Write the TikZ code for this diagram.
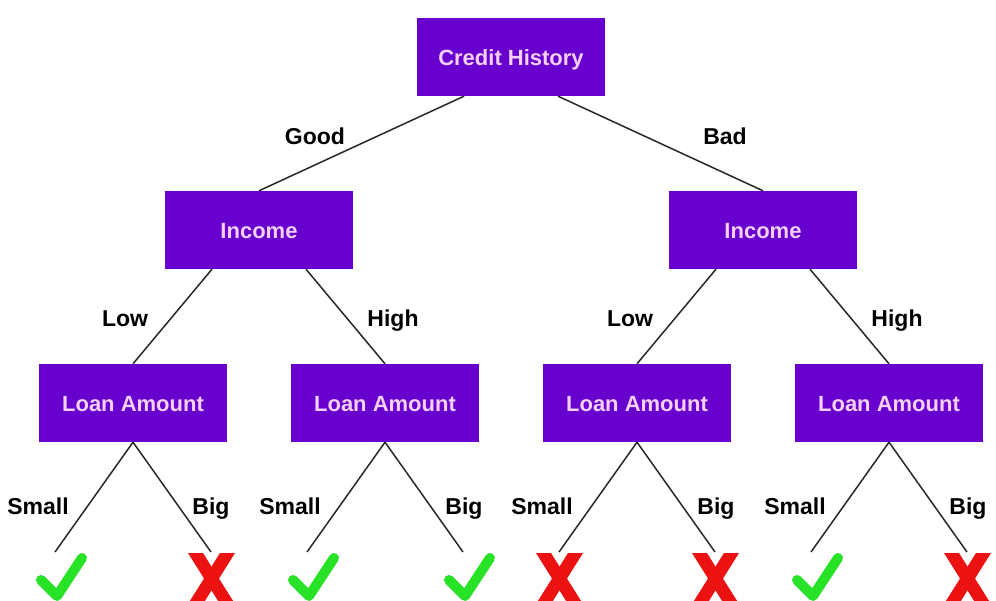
\documentclass[tikz,border=0pt]{standalone}
\usepackage{fontspec}
\setmainfont{Liberation Sans}
\definecolor{boxpurple}{RGB}{104,0,206}
\definecolor{boxtext}{RGB}{245,208,250}
\definecolor{okgreen}{RGB}{40,226,40}
\definecolor{badred}{RGB}{236,18,18}
\definecolor{edgegray}{RGB}{40,40,40}
\tikzset{
  treebox/.style={rectangle, fill=boxpurple, text=boxtext, minimum width=188pt, minimum height=78pt, inner sep=0pt, text height=18.5pt, text depth=1.5pt, font=\fontsize{22}{26}\selectfont\bfseries},
  branchlabel/.style={text=black, inner sep=0pt, text height=18.5pt, text depth=1.5pt, font=\fontsize{23}{27}\selectfont\bfseries},
  treeedge/.style={draw=edgegray, line width=1.5pt},
  checkmark/.style={draw=okgreen, line width=10pt, line cap=round, line join=round},
  crossmark/.style={fill=badred}
}
\begin{document}
\begin{tikzpicture}[x=1pt,y=-1pt]
\useasboundingbox (0,0) rectangle (996,601);
\clip (0,0) rectangle (996,601);
% boxes
\node[treebox] (ch) at (511,57) {Credit History};
\node[treebox] (incL) at (259,230) {Income};
\node[treebox] (incR) at (763,230) {Income};
\node[treebox] (la1) at (133,403) {Loan Amount};
\node[treebox] (la2) at (385,403) {Loan Amount};
\node[treebox] (la3) at (637,403) {Loan Amount};
\node[treebox] (la4) at (889,403) {Loan Amount};
% edges
\draw[treeedge] ([xshift=-47pt]ch.south) -- (incL.north);
\draw[treeedge] ([xshift=47pt]ch.south) -- (incR.north);
\draw[treeedge] ([xshift=-47pt]incL.south) -- (la1.north);
\draw[treeedge] ([xshift=47pt]incL.south) -- (la2.north);
\draw[treeedge] ([xshift=-47pt]incR.south) -- (la3.north);
\draw[treeedge] ([xshift=47pt]incR.south) -- (la4.north);
% leaf ends
\coordinate (e1) at (55,552);
\coordinate (e2) at (211,552);
\coordinate (e3) at (307,552);
\coordinate (e4) at (463,552);
\coordinate (e5) at (559,552);
\coordinate (e6) at (715,552);
\coordinate (e7) at (811,552);
\coordinate (e8) at (967,552);
\draw[treeedge] (la1.south) -- (e1);
\draw[treeedge] (la1.south) -- (e2);
\draw[treeedge] (la2.south) -- (e3);
\draw[treeedge] (la2.south) -- (e4);
\draw[treeedge] (la3.south) -- (e5);
\draw[treeedge] (la3.south) -- (e6);
\draw[treeedge] (la4.south) -- (e7);
\draw[treeedge] (la4.south) -- (e8);
% labels
\node[branchlabel] (lgood) at (315,136) {Good};
\node[branchlabel] (lbad) at (725,136) {Bad};
\node[branchlabel] (llow1) at (125,318) {Low};
\node[branchlabel] (lhigh1) at (393,318) {High};
\node[branchlabel] (llow2) at (630,318) {Low};
\node[branchlabel] (lhigh2) at (897,318) {High};
\node[branchlabel] (ls1) at (38,506) {Small};
\node[branchlabel] (lb1) at (211,506) {Big};
\node[branchlabel] (ls2) at (290,506) {Small};
\node[branchlabel] (lb2) at (464,506) {Big};
\node[branchlabel] (ls3) at (542,506) {Small};
\node[branchlabel] (lb3) at (716,506) {Big};
\node[branchlabel] (ls4) at (795,506) {Small};
\node[branchlabel] (lb4) at (968,506) {Big};
% marks
\foreach \c in {e1,e3,e4,e7}{
  \draw[checkmark] ([shift={(-14,28)}]\c) -- ([shift={(2,44)}]\c) -- ([shift={(27,6)}]\c);
}
\foreach \c in {e2,e5,e6,e8}{
  \fill[crossmark] ([shift={(-23,1)}]\c) -- ([shift={(-8,1)}]\c) -- ([shift={(24,52)}]\c) -- ([shift={(9,52)}]\c) -- cycle;
  \fill[crossmark] ([shift={(9,1)}]\c) -- ([shift={(24,1)}]\c) -- ([shift={(-8,52)}]\c) -- ([shift={(-23,52)}]\c) -- cycle;
}
\end{tikzpicture}
\end{document}
